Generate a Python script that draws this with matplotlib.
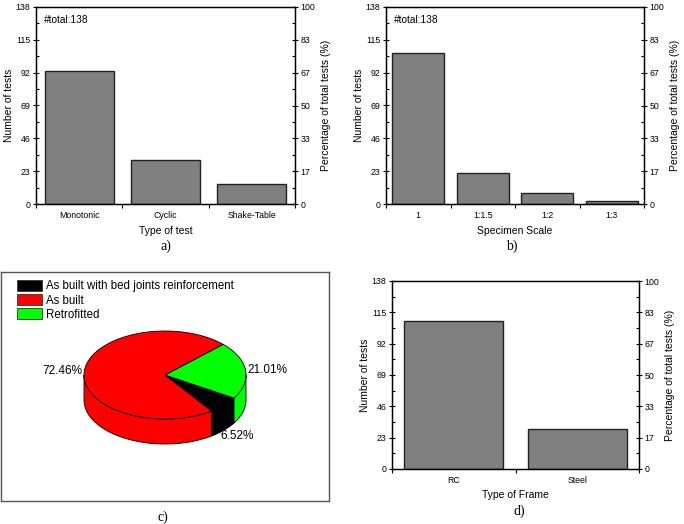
import numpy as np
import matplotlib.pyplot as plt
from matplotlib.patches import Polygon, Patch

plt.rcParams['font.family'] = ['Liberation Sans', 'DejaVu Sans']

total = 138

# a) type of test
test_types = ['Monotonic', 'Cyclic', 'Shake-Table']
test_counts = [93, 31, 14]

# b) specimen scale
scales = ['1', '1:1.5', '1:2', '1:3']
scale_counts = [106, 22, 8, 2]

# c) pie
pie_labels = ['As built with bed joints reinforcement', 'As built', 'Retrofitted']
pie_counts = [9, 100, 29]
pie_colors = ['#000000', '#ff0000', '#00ff00']
pie_order = [0, 2, 1]  # counter-clockwise drawing order

# d) type of frame
frames = ['RC', 'Steel']
frame_counts = [109, 29]

y_ticks = [0, 23, 46, 69, 92, 115, 138]

W, H = 684, 524
fig = plt.figure(figsize=(W / 100, H / 100), dpi=100)


def px_axes(left, top, right, bottom):
    return fig.add_axes([left / W, (H - bottom) / H, (right - left) / W, (bottom - top) / H])


def bar_panel(ax, cats, counts, xlabel, show_total):
    x = np.arange(len(cats))
    ax.bar(x, counts, width=0.8, color='#808080', edgecolor='#222222', linewidth=1.0)
    ax.set_xlim(-0.5, len(cats) - 0.5)
    ax.set_ylim(0, total)
    ax.set_yticks(y_ticks)
    ax.set_yticks(np.arange(11.5, total, 23), minor=True)
    ax.set_xticks(x)
    ax.set_xticklabels(cats)
    ax.set_xticks(np.arange(-0.5, len(cats), 1.0), minor=True)
    ax.tick_params(axis='x', which='major', length=0, labelsize=6.3, pad=5)
    ax.tick_params(axis='x', which='minor', direction='out', length=3, width=0.8)
    ax.tick_params(axis='y', which='major', direction='inout', length=4, width=0.8, labelsize=6.3, pad=2)
    ax.tick_params(axis='y', which='minor', direction='in', length=2, width=0.8)
    ax.set_xlabel(xlabel, fontsize=7.5, labelpad=4)
    ax.set_ylabel('Number of tests', fontsize=7.5, labelpad=1.5)
    for s in ax.spines.values():
        s.set_linewidth(1.0)
    if show_total:
        ax.text(0.03, 0.96, '#total:%d' % total, transform=ax.transAxes,
                fontsize=7.3, va='top', ha='left')
    ax2 = ax.twinx()
    ax2.set_ylim(0, 100)
    pct = np.linspace(0, 100, 7)
    ax2.set_yticks(pct)
    ax2.set_yticklabels(['%.0f' % p for p in pct])
    ax2.set_yticks(np.linspace(100 / 12, 100 - 100 / 12, 6), minor=True)
    ax2.tick_params(axis='y', which='major', direction='inout', length=4, width=0.8, labelsize=6.3, pad=2)
    ax2.tick_params(axis='y', which='minor', direction='in', length=2, width=0.8)
    ax2.set_ylabel('Percentage of total tests (%)', fontsize=7.5, labelpad=4)


ax_a = px_axes(36, 7, 295, 204)
bar_panel(ax_a, test_types, test_counts, 'Type of test', True)

ax_b = px_axes(386, 7, 644, 204)
bar_panel(ax_b, scales, scale_counts, 'Specimen Scale', True)

ax_d = px_axes(392, 281, 639, 469)
bar_panel(ax_d, frames, frame_counts, 'Type of Frame', False)

# c) pseudo 3D pie, drawn in a pixel-unit axes
bx0, by0, bx1, by1 = 1, 272, 329, 501
ax_c = px_axes(bx0, by0, bx1, by1)
ax_c.set_xlim(0, bx1 - bx0)
ax_c.set_ylim(0, by1 - by0)
ax_c.set_xticks([])
ax_c.set_yticks([])
for s in ax_c.spines.values():
    s.set_color('#555555')
    s.set_linewidth(1.0)

cx, cy = 164, 126
rx, ry, depth = 81, 44, 25
start = -55.0
fracs = np.array(pie_counts) / sum(pie_counts)
spans = 360 * fracs[pie_order]
edges = start + np.concatenate([[0], np.cumsum(spans)])
bounds = {k: (edges[j], edges[j + 1]) for j, k in enumerate(pie_order)}


def ell(t, dy=0.0):
    t = np.radians(t)
    return np.column_stack([cx + rx * np.cos(t), cy + ry * np.sin(t) + dy])


# side walls (front half only)
for i in pie_order:
    a1, a2 = bounds[i]
    for shift in (-360, 0, 360):
        lo = max(a1 + shift, 180)
        hi = min(a2 + shift, 360)
        if hi > lo:
            t = np.linspace(lo, hi, 60)
            top = ell(t)
            bot = ell(t[::-1], -depth)
            ax_c.add_patch(Polygon(np.vstack([top, bot]), closed=True,
                                   facecolor=pie_colors[i], edgecolor='black', linewidth=0.6))

# top face
for i in pie_order:
    t = np.linspace(bounds[i][0], bounds[i][1], 120)
    pts = np.vstack([[cx, cy], ell(t)])
    ax_c.add_patch(Polygon(pts, closed=True, facecolor=pie_colors[i],
                           edgecolor='black', linewidth=0.6))

# percentage labels
for i in pie_order:
    mid = np.radians(sum(bounds[i]) / 2)
    lx = cx + rx * 1.02 * np.cos(mid)
    ly = cy + ry * 1.02 * np.sin(mid)
    if np.sin(mid) < -0.3:
        ly -= depth * 1.2
        lx -= 5
    ha = 'left' if np.cos(mid) > 0 else 'right'
    ax_c.text(lx, ly, '%.2f%%' % (fracs[i] * 100), fontsize=8.5, ha=ha, va='center')

handles = [Patch(facecolor=c, edgecolor='#333333', linewidth=0.6) for c in pie_colors]
ax_c.legend(handles, pie_labels, loc='upper left', bbox_to_anchor=(0.035, 0.985),
            frameon=False, fontsize=8.3, handlelength=2.2, handleheight=1.1,
            handletextpad=0.35, labelspacing=0.15, borderaxespad=0.2, borderpad=0.2)

# panel letters
for lab, x, y in [('a)', 166, 246), ('b)', 512, 246), ('c)', 163, 517), ('d)', 519, 511)]:
    fig.text(x / W, (H - y) / H, lab, fontsize=10, family='Liberation Serif',
             ha='center', va='center')

fig.savefig('out.png', dpi=100)
